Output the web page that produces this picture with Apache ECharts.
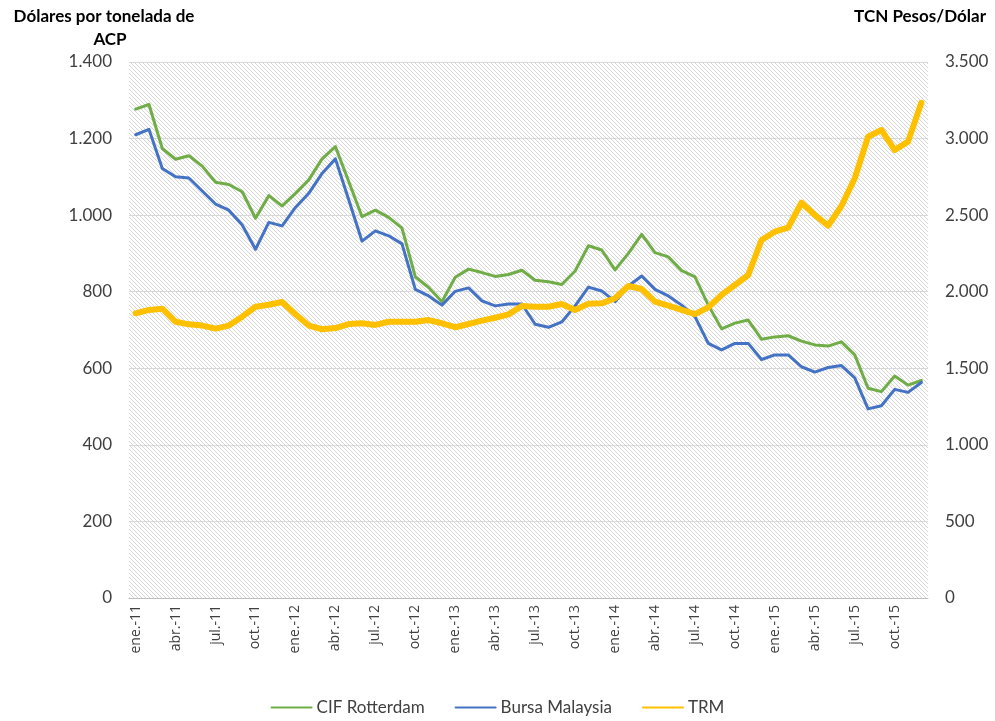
<!DOCTYPE html>
<html>
<head>
<meta charset="utf-8">
<title>ACP - CIF Rotterdam, Bursa Malaysia y TRM</title>
<script src="https://cdn.jsdelivr.net/npm/echarts@6/dist/echarts.min.js"></script>
<style>
  html, body { margin: 0; padding: 0; background: #fff; }
  #chart { width: 995px; height: 721px; }
</style>
</head>
<body>
<div id="chart"></div>
<script>
// meses ene-11 .. dic-15
var monthNames = ['ene.', 'feb.', 'mar.', 'abr.', 'may.', 'jun.', 'jul.', 'ago.', 'sep.', 'oct.', 'nov.', 'dic.'];
var years = ['11', '12', '13', '14', '15'];
var categories = [];
years.forEach(function (y) {
  monthNames.forEach(function (m) { categories.push(m + '-' + y); });
});

// USD por tonelada (eje izquierdo)
var cifRotterdam = [
  1277, 1289, 1174, 1146, 1155, 1128, 1086, 1080, 1061, 992, 1051, 1024,
  1057, 1092, 1147, 1179, 1088, 996, 1013, 994, 966, 839, 811, 774,
  838, 859, 850, 840, 845, 856, 830, 826, 819, 854, 920, 909,
  857, 900, 950, 902, 891, 855, 839, 765, 703, 718, 726, 676,
  682, 685, 671, 661, 658, 669, 635, 548, 539, 580, 556, 568
];
var bursaMalaysia = [
  1210, 1224, 1122, 1100, 1097, 1063, 1029, 1013, 974, 911, 981, 972,
  1020, 1057, 1109, 1147, 1040, 932, 959, 946, 925, 806, 789, 765,
  801, 810, 776, 763, 768, 768, 715, 707, 721, 763, 812, 802,
  774, 815, 841, 806, 789, 765, 735, 665, 648, 665, 665, 623,
  635, 635, 604, 590, 602, 607, 575, 494, 502, 545, 537, 563
];
// pesos por dolar (eje derecho)
var trm = [
  1859, 1881, 1889, 1804, 1787, 1779, 1759, 1779, 1837, 1902, 1915, 1933,
  1853, 1779, 1755, 1763, 1789, 1794, 1783, 1804, 1804, 1804, 1815, 1794,
  1768, 1789, 1811, 1830, 1852, 1907, 1902, 1902, 1920, 1881, 1922, 1924,
  1957, 2037, 2018, 1935, 1909, 1881, 1854, 1898, 1979, 2044, 2109, 2338,
  2392, 2418, 2581, 2501, 2431, 2560, 2741, 3012, 3056, 2925, 2980, 3234
];

var FONT = 'Lato, "Open Sans", sans-serif';
var XFONT = '"Open Sans", "Liberation Sans", sans-serif';
var TXT = '#404040';

function miles(v) {
  return String(v).replace(/\B(?=(\d{3})+(?!\d))/g, '.');
}

// fondo rayado del area de trazado
var hatch = document.createElement('canvas');
hatch.width = 4;
hatch.height = 4;
var hctx = hatch.getContext('2d');
hctx.fillStyle = '#ffffff';
hctx.fillRect(0, 0, 4, 4);
hctx.fillStyle = '#d6d6d6';
for (var i = 0; i < 4; i++) {
  hctx.fillRect(i, i, 1, 1);
}

var myChart = echarts.init(document.getElementById('chart'), null, { renderer: 'canvas' });

var option = {
  animation: false,
  textStyle: { fontFamily: FONT },
  grid: {
    left: 129,
    right: 67,
    top: 62,
    bottom: 123,
    show: true,
    borderWidth: 0,
    backgroundColor: { image: hatch, repeat: 'repeat' }
  },
  graphic: [
    {
      type: 'text',
      x: 104,
      y: 8,
      style: { text: 'Dólares por tonelada de', font: 'bold 17px ' + FONT, fill: '#000', align: 'center' }
    },
    {
      type: 'text',
      x: 110,
      y: 31,
      style: { text: 'ACP', font: 'bold 17px ' + FONT, fill: '#000', align: 'center' }
    },
    {
      type: 'text',
      x: 986,
      y: 8,
      style: { text: 'TCN Pesos/Dólar', font: 'bold 17px ' + FONT, fill: '#000', align: 'right' }
    }
  ],
  legend: {
    bottom: 0,
    left: 'center',
    itemWidth: 40,
    itemHeight: 10,
    itemGap: 30,
    itemStyle: { opacity: 0 },
    textStyle: { fontFamily: FONT, fontSize: 17, color: TXT },
    data: ['CIF Rotterdam', 'Bursa Malaysia', 'TRM']
  },
  xAxis: {
    type: 'category',
    data: categories,
    boundaryGap: true,
    axisLine: { lineStyle: { color: '#bfbfbf' } },
    axisTick: { interval: 2, length: 5, lineStyle: { color: '#bfbfbf' } },
    axisLabel: {
      interval: 2,
      rotate: 90,
      margin: 7,
      fontSize: 14,
      color: TXT,
      fontFamily: XFONT
    },
    splitLine: { show: false }
  },
  yAxis: [
    {
      type: 'value',
      min: 0,
      max: 1400,
      interval: 200,
      axisLine: { show: false },
      axisTick: { show: false },
      axisLabel: { margin: 17, fontSize: 17, color: TXT, fontFamily: FONT, formatter: miles },
      splitLine: { lineStyle: { color: '#d9d9d9', width: 1 } }
    },
    {
      type: 'value',
      min: 0,
      max: 3500,
      interval: 500,
      position: 'right',
      axisLine: { show: false },
      axisTick: { show: false },
      axisLabel: { margin: 17, fontSize: 17, color: TXT, fontFamily: FONT, formatter: miles },
      splitLine: { show: false }
    }
  ],
  series: [
    {
      name: 'CIF Rotterdam',
      type: 'line',
      data: cifRotterdam,
      yAxisIndex: 0,
      symbol: 'none',
      color: '#70ad47',
      lineStyle: { width: 3, color: '#70ad47', join: 'round', cap: 'round' }
    },
    {
      name: 'Bursa Malaysia',
      type: 'line',
      data: bursaMalaysia,
      yAxisIndex: 0,
      symbol: 'none',
      color: '#4472c4',
      lineStyle: { width: 3, color: '#4472c4', join: 'round', cap: 'round' }
    },
    {
      name: 'TRM',
      type: 'line',
      data: trm,
      yAxisIndex: 1,
      symbol: 'none',
      color: '#ffc000',
      lineStyle: { width: 6, color: '#ffc000', join: 'round', cap: 'round' }
    }
  ]
};

myChart.setOption(option);
window.addEventListener('resize', myChart.resize);
</script>
</body>
</html>
